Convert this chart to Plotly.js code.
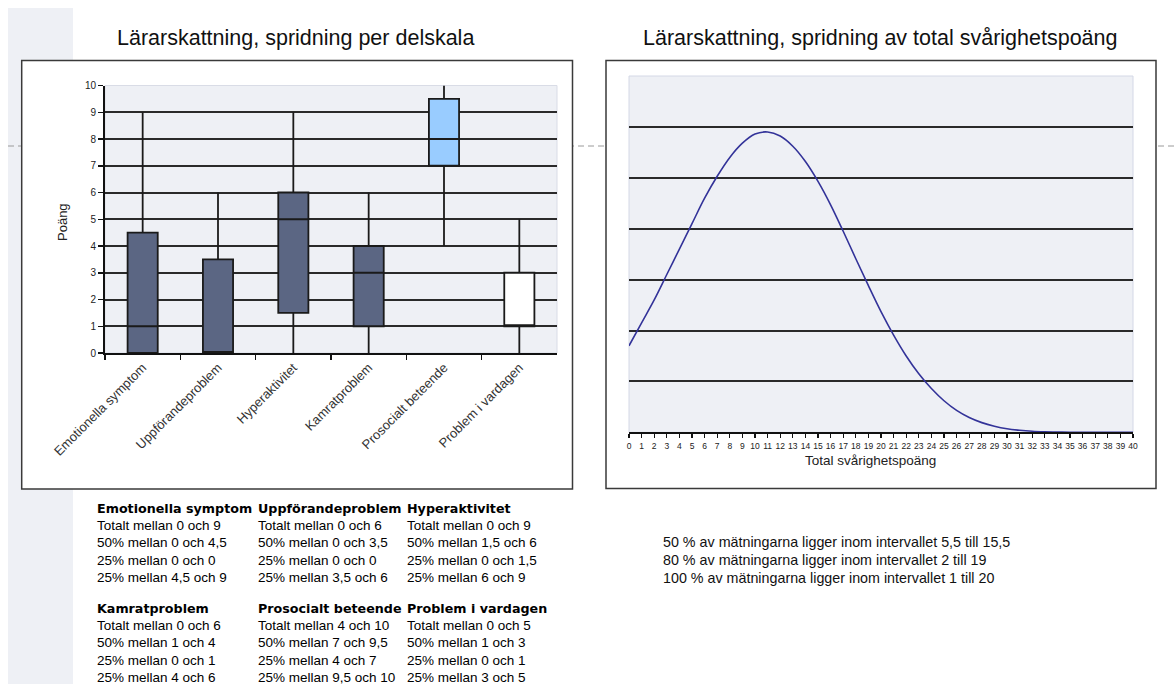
<!DOCTYPE html>
<html><head><meta charset="utf-8">
<script src="https://cdn.plot.ly/plotly-3.0.1.min.js"></script>
<style>html,body{margin:0;padding:0;background:#fff;} #chart{width:1174px;height:684px;}</style>
</head><body><div id="chart"></div>
<script>
// ---- Data: left chart (box per subscale) ----
const categories = ['Emotionella symptom','Uppförandeproblem','Hyperaktivitet','Kamratproblem','Prosocialt beteende','Problem i vardagen'];
const minVals    = [0, 0, 0,   0, 4,   0];
const q1Vals     = [0, 0, 1.5, 1, 7,   1];
const medianVals = [1, 0, 5,   3, 8,   1];
const q3Vals     = [4.5, 3.5, 6, 4, 9.5, 3];
const maxVals    = [9, 6, 9,   6, 10,  5];
const boxColors  = ['#5b6683','#5b6683','#5b6683','#5b6683','#99ccff','#ffffff'];
const yTickVals  = [0,1,2,3,4,5,6,7,8,9,10];

// ---- Data: right chart (distribution of total score) ----
const totalScore = [0,1,2,3,4,5,6,7,8,9,10,11,12,13,14,15,16,17,18,19,20,21,22,23,24,25,26,27,28,29,30,31,32,33,34,35,36,37,38,39,40];
const distribution = [1.7,2.15,2.6,3.1,3.6,4.1,4.6,5.03,5.4,5.68,5.86,5.9,5.82,5.62,5.32,4.93,4.47,3.95,3.41,2.88,2.37,1.91,1.5,1.15,0.86,0.62,0.43,0.29,0.19,0.12,0.07,0.04,0.02,0.01,0.005,0,0,0,0,0,0];

// ---- Data: interval texts ----
const intervalPct  = [50, 80, 100];
const intervalLow  = [5.5, 2, 1];
const intervalHigh = [15.5, 19, 20];

const W = 1174, H = 684;
const px = v => v / W;
const py = v => 1 - v / H;
const fmt = v => String(v).replace('.', ',');
const FONT = 'Liberation Sans, Arial, sans-serif';

const traces = categories.map((c, i) => ({
  type: 'box', x: [c], q1: [q1Vals[i]], median: [medianVals[i]], q3: [q3Vals[i]],
  lowerfence: [minVals[i]], upperfence: [maxVals[i]],
  width: 0.4, whiskerwidth: 0, boxpoints: false,
  fillcolor: boxColors[i], line: {color: '#1a1a1a', width: 1.8},
  xaxis: 'x', yaxis: 'y', showlegend: false, hoverinfo: 'skip'
}));
traces.push({
  type: 'scatter', mode: 'lines', x: totalScore, y: distribution,
  xaxis: 'x2', yaxis: 'y2', line: {color: '#333399', width: 1.6, shape: 'spline', smoothing: 1},
  showlegend: false, hoverinfo: 'skip'
});

const annotations = [];
function addText(text, x, y, opts) {
  annotations.push(Object.assign({
    text: text, x: px(x), y: py(y), xref: 'paper', yref: 'paper', showarrow: false,
    xanchor: 'left', yanchor: 'middle', borderpad: 0,
    font: {family: FONT, size: 13, color: '#000'}
  }, opts || {}));
}
addText('Lärarskattning, spridning per delskala', 296, 38, {xanchor: 'center', font: {family: FONT, size: 21.5, color: '#111'}});
addText('Lärarskattning, spridning av total svårighetspoäng', 880, 38, {xanchor: 'center', font: {family: FONT, size: 21.5, color: '#111'}});
addText('Poäng', 62, 222, {xanchor: 'center', textangle: -90, font: {family: FONT, size: 13, color: '#222'}});
addText('Total svårighetspoäng', 870, 461, {xanchor: 'center', font: {family: FONT, size: 13.5, color: '#222'}});

const colX = [96, 256.5, 406];
const colW = [160, 148, 170];
const blockY = [508, 608];
const rowStep = 17.4;
categories.forEach((c, i) => {
  const b = Math.floor(i / 3), col = i % 3;
  const x = colX[col], y0 = blockY[b];
  addText(c, x, y0, {width: colW[col], align: 'left', font: {family: 'DejaVu Sans, sans-serif', size: 12.7, color: '#000', weight: 'bold'}});
  const lines = [
    'Totalt mellan ' + fmt(minVals[i]) + ' och ' + fmt(maxVals[i]),
    '50% mellan ' + fmt(q1Vals[i]) + ' och ' + fmt(q3Vals[i]),
    '25% mellan ' + fmt(minVals[i]) + ' och ' + fmt(q1Vals[i]),
    '25% mellan ' + fmt(q3Vals[i]) + ' och ' + fmt(maxVals[i])
  ];
  lines.forEach((t, k) => addText(t, x, y0 + rowStep * (k + 1), {font: {family: FONT, size: 13.5, color: '#000'}}));
});
intervalPct.forEach((p, k) => {
  addText(p + ' % av mätningarna ligger inom intervallet ' + fmt(intervalLow[k]) + ' till ' + fmt(intervalHigh[k]),
    662, 542 + 18 * k, {font: {family: FONT, size: 14.3, color: '#111'}});
});

const shapes = [
  {type: 'rect', xref: 'paper', yref: 'paper', x0: px(8), x1: px(73), y0: py(684), y1: py(8), fillcolor: '#eef0f5', line: {width: 0}, layer: 'below'},
  {type: 'line', xref: 'paper', yref: 'paper', x0: px(8), x1: 1, y0: py(146), y1: py(146), line: {color: '#9a9a9a', width: 1, dash: '6px,4px'}, layer: 'below'},
  {type: 'rect', xref: 'paper', yref: 'paper', x0: px(21.7), x1: px(572.5), y0: py(489), y1: py(60.5), fillcolor: '#ffffff', line: {color: '#3a3a3a', width: 1.5}, layer: 'below'},
  {type: 'rect', xref: 'paper', yref: 'paper', x0: px(606), x1: px(1156), y0: py(488.5), y1: py(60.5), fillcolor: '#ffffff', line: {color: '#3a3a3a', width: 1.5}, layer: 'below'},
  {type: 'rect', xref: 'x domain', yref: 'y domain', x0: 0, x1: 1, y0: 0, y1: 1, fillcolor: '#eef0f5', line: {color: '#d9dce6', width: 1}, layer: 'below'},
  {type: 'rect', xref: 'x2 domain', yref: 'y2 domain', x0: 0, x1: 1, y0: 0, y1: 1, fillcolor: '#eef0f5', line: {color: '#d4d8e6', width: 1}, layer: 'below'}
];

const layout = {
  width: W, height: H, margin: {l: 0, r: 0, t: 0, b: 0},
  paper_bgcolor: '#ffffff', plot_bgcolor: 'rgba(0,0,0,0)',
  showlegend: false, boxmode: 'overlay',
  font: {family: FONT},
  xaxis: {
    domain: [px(105), px(557)], anchor: 'y', type: 'category',
    categoryorder: 'array', categoryarray: categories, range: [-0.5, 5.5],
    showline: true, linecolor: '#111', linewidth: 2,
    ticks: 'outside', ticklen: 5, tickwidth: 1.5, tickcolor: '#111', tickson: 'boundaries',
    tickangle: -45, tickfont: {family: FONT, size: 13, color: '#333'},
    showgrid: false, zeroline: false, fixedrange: true
  },
  yaxis: {
    domain: [py(353), py(85.5)], anchor: 'x', range: [0, 10], tickvals: yTickVals,
    showgrid: true, gridcolor: '#2a2a2a', gridwidth: 2,
    showline: true, linecolor: '#111', linewidth: 2,
    ticks: 'outside', ticklen: 5, tickwidth: 1.5, tickcolor: '#111',
    tickfont: {family: FONT, size: 10, color: '#222'}, zeroline: false, fixedrange: true
  },
  xaxis2: {
    domain: [px(629), px(1133)], anchor: 'y2', range: [0, 40], tickvals: totalScore,
    showline: true, linecolor: '#111', linewidth: 2,
    ticks: 'outside', ticklen: 4, tickwidth: 1.2, tickcolor: '#111',
    tickfont: {family: FONT, size: 8.5, color: '#222'}, tickangle: 0,
    showgrid: false, zeroline: false, fixedrange: true
  },
  yaxis2: {
    domain: [py(432.3), py(76)], anchor: 'x2', range: [0, 7], dtick: 1,
    showgrid: true, gridcolor: '#2a2a2a', gridwidth: 2,
    showticklabels: false, showline: false, ticks: '', zeroline: false, fixedrange: true
  },
  shapes: shapes,
  annotations: annotations
};

Plotly.newPlot('chart', traces, layout, {displayModeBar: false, staticPlot: true});
</script>
</body></html>
